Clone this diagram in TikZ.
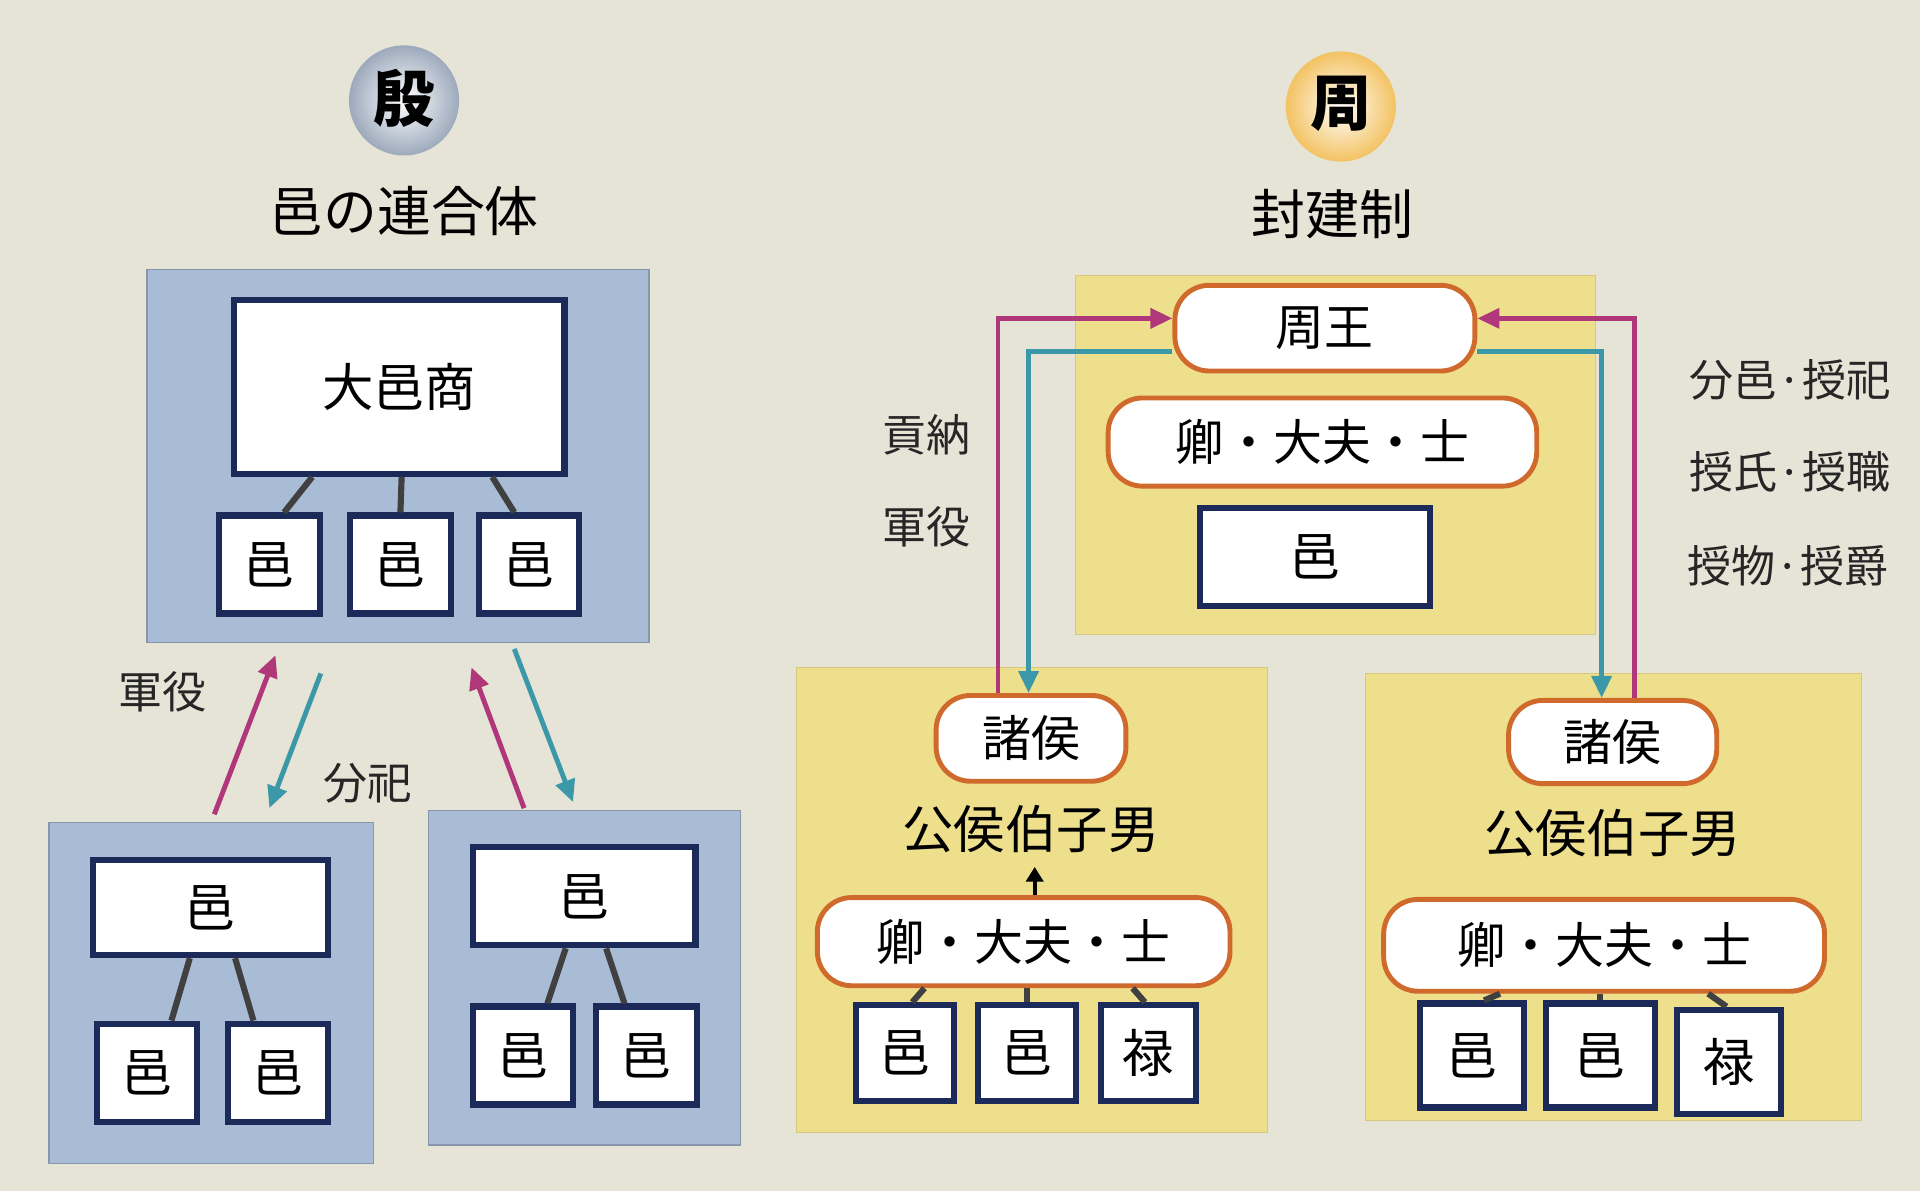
\documentclass[tikz,border=0pt]{standalone}
\usepackage{fontspec}
\setmainfont{Noto Sans CJK JP}
\usetikzlibrary{arrows.meta}
\definecolor{bg}{HTML}{E6E4D6}
\definecolor{bluebox}{HTML}{A9BCD6}
\definecolor{yelbox}{HTML}{EEDF8C}
\definecolor{navy}{HTML}{1C2A5A}
\definecolor{org}{HTML}{CF6A2C}
\definecolor{mag}{HTML}{B0387A}
\definecolor{teal2}{HTML}{3A98A8}
\begin{document}
\begin{tikzpicture}[x=1pt,y=-1pt,
  bbox/.style={draw=bluebox!80!black, line width=1pt, fill=bluebox},
  ybox/.style={fill=yelbox, draw=yelbox!90!black},
  wbox/.style={draw=navy, line width=5pt, fill=white, font=\fontsize{42}{46}\selectfont},
  pill/.style={draw=org, line width=4pt, fill=white, rounded corners=28pt, font=\fontsize{40}{44}\selectfont},
  lbl/.style={font=\fontsize{36}{40}\selectfont, text=black!85},
  stem/.style={draw=black!75, line width=5pt},
  marr/.style={draw=mag, line width=4pt, -{Triangle[length=18pt,width=16pt]}},
  tarr/.style={draw=teal2, line width=4pt, -{Triangle[length=18pt,width=16pt]}}]
\fill[bg] (0,0) rectangle (1568,973);
\useasboundingbox (0,0) rectangle (1568,973);
% titles
\shade[inner color=white, outer color=bluebox!70!gray] (330,82) circle (45);
\node[font=\fontsize{50}{52}\selectfont\bfseries] (yin) at (330,80) {殷};
\node[font=\fontsize{44}{48}\selectfont] (yint) at (330,172) {邑の連合体};
\shade[inner color=white, outer color=yelbox!70!orange] (1095,87) circle (45);
\node[font=\fontsize{50}{52}\selectfont\bfseries] (zhou) at (1095,85) {周};
\node[font=\fontsize{44}{48}\selectfont] (zhout) at (1088,175) {封建制};
% left big
\draw[bbox] (120,220) rectangle (530,525);
\node[wbox, minimum width=270pt, minimum height=142pt] (dys) at (326,316) {大邑商};
\node[wbox, minimum width=82pt, minimum height=80pt] (a1) at (220,461) {邑};
\node[wbox, minimum width=82pt, minimum height=80pt] (a2) at (327,461) {邑};
\node[wbox, minimum width=82pt, minimum height=80pt] (a3) at (432,461) {邑};
\draw[stem] (dys.south -| 255,0) -- (a1.north -| 232,0);
\draw[stem] (dys.south -| 328,0) -- (a2.north);
\draw[stem] (dys.south -| 402,0) -- (a3.north -| 420,0);
% lower left boxes
\draw[bbox] (40,672) rectangle (305,950);
\node[wbox, minimum width=192pt, minimum height=78pt] (b0) at (172,741) {邑};
\node[wbox, minimum width=82pt, minimum height=80pt] (b1) at (120,876) {邑};
\node[wbox, minimum width=82pt, minimum height=80pt] (b2) at (227,876) {邑};
\draw[stem] (b0.south -| 155,0) -- (b1.north -| 140,0);
\draw[stem] (b0.south -| 192,0) -- (b2.north -| 207,0);
\draw[bbox] (350,662) rectangle (605,935);
\node[wbox, minimum width=182pt, minimum height=80pt] (c0) at (477,732) {邑};
\node[wbox, minimum width=82pt, minimum height=80pt] (c1) at (427,862) {邑};
\node[wbox, minimum width=82pt, minimum height=80pt] (c2) at (528,862) {邑};
\draw[stem] (c0.south -| 462,0) -- (c1.north -| 447,0);
\draw[stem] (c0.south -| 495,0) -- (c2.north -| 510,0);
% left arrows
\coordinate (p1) at (175,665); \coordinate (p2) at (225,535);
\coordinate (q1) at (262,550); \coordinate (q2) at (220,660);
\coordinate (r1) at (428,660); \coordinate (r2) at (385,545);
\coordinate (s1) at (420,530); \coordinate (s2) at (468,655);
\draw[marr] (p1) -- (p2);
\draw[tarr] (q1) -- (q2);
\draw[marr] (r1) -- (r2);
\draw[tarr] (s1) -- (s2);
\node[lbl] (l1) at (133,565) {軍役};
\node[lbl] (l2) at (300,640) {分祀};
% right top
\draw[ybox] (878,225) rectangle (1303,518);
\node[pill, minimum width=245pt, minimum height=70pt] (wang) at (1082,268) {周王};
\node[pill, minimum width=350pt, minimum height=72pt] (q0) at (1080,361) {卿・大夫・士};
\node[wbox, minimum width=188pt, minimum height=80pt] (y0) at (1074,455) {邑};
% lower right boxes
\draw[ybox] (650,545) rectangle (1035,925);
\node[pill, minimum width=155pt, minimum height=70pt] (z1) at (842,603) {諸侯};
\node[font=\fontsize{42}{46}\selectfont] (g1) at (842,677) {公侯伯子男};
\node[pill, minimum width=337pt, minimum height=72pt] (q1n) at (836,769) {卿・大夫・士};
\node[wbox, minimum width=80pt, minimum height=78pt] (d1) at (739,860) {邑};
\node[wbox, minimum width=80pt, minimum height=78pt] (d2) at (839,860) {邑};
\node[wbox, minimum width=78pt, minimum height=78pt] (d3) at (938,860) {禄};
\draw[line width=3pt,-{Triangle[length=12pt,width=14pt]}] (q1n.north -| 845,0) -- (845,708);
\draw[stem] (q1n.south -| 755,0) -- (d1.north -| 745,0);
\draw[stem] (q1n.south -| 839,0) -- (d2.north);
\draw[stem] (q1n.south -| 925,0) -- (d3.north -| 935,0);
\draw[ybox] (1115,550) rectangle (1520,915);
\node[pill, minimum width=170pt, minimum height=68pt] (z2) at (1317,606) {諸侯};
\node[font=\fontsize{42}{46}\selectfont] (g2) at (1317,680) {公侯伯子男};
\node[pill, minimum width=360pt, minimum height=75pt] (q2n) at (1310,772) {卿・大夫・士};
\node[wbox, minimum width=85pt, minimum height=85pt] (e1) at (1202,862) {邑};
\node[wbox, minimum width=89pt, minimum height=85pt] (e2) at (1307,862) {邑};
\node[wbox, minimum width=85pt, minimum height=85pt] (e3) at (1412,867) {禄};
\draw[stem] (q2n.south -| 1225,0) -- (e1.north -| 1212,0);
\draw[stem] (q2n.south -| 1307,0) -- (e2.north);
\draw[stem] (q2n.south -| 1395,0) -- (e3.north -| 1410,0);
% feudal arrows
\draw[marr] (z1.north -| 815,0) |- (wang.west |- 0,260);
\draw[tarr] (wang.west |- 0,287) -| (z1.north -| 840,0);
\draw[marr] (z2.north -| 1335,0) |- (wang.east |- 0,260);
\draw[tarr] (wang.east |- 0,287) -| (z2.north -| 1308,0);
\node[lbl] (m1) at (757,355) {貢納};
\node[lbl] (m2) at (757,430) {軍役};
\node[lbl] (n1) at (1462,310) {分邑·授祀};
\node[lbl] (n2) at (1462,385) {授氏·授職};
\node[lbl] (n3) at (1460,462) {授物·授爵};
\end{tikzpicture}
\end{document}
